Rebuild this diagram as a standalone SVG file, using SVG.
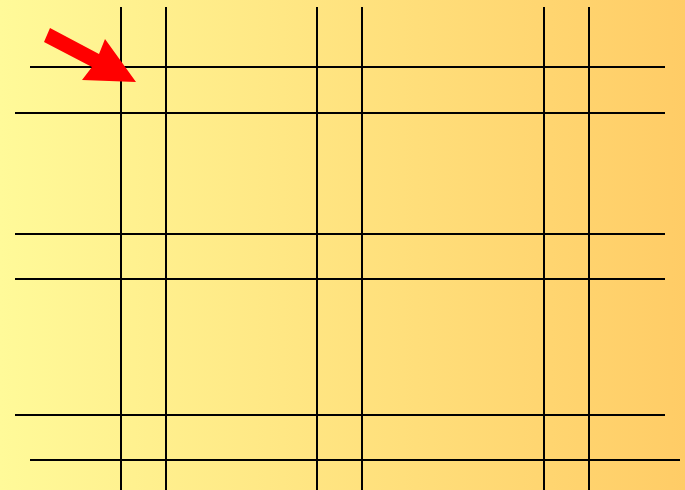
<svg xmlns="http://www.w3.org/2000/svg" width="685" height="490" viewBox="0 0 685 490">
<defs>
<linearGradient id="bg" x1="0" y1="0" x2="1" y2="0">
<stop offset="0" stop-color="#FFFA99"/>
<stop offset="1" stop-color="#FFCC66"/>
</linearGradient>
<style>.ln{stroke:#000;stroke-width:2;fill:none}</style>
</defs>
<rect width="685" height="490" fill="url(#bg)"/>
<g id="connectors" class="ln">
<line x1="30" y1="67" x2="665" y2="67"/>
<line x1="15" y1="113" x2="665" y2="113"/>
<line x1="15" y1="234" x2="665" y2="234"/>
<line x1="15" y1="279" x2="665" y2="279"/>
<line x1="15" y1="415" x2="665" y2="415"/>
<line x1="30" y1="460" x2="680" y2="460"/>
<line x1="121" y1="7" x2="121" y2="490"/>
<line x1="166" y1="7" x2="166" y2="490"/>
<line x1="317" y1="7" x2="317" y2="490"/>
<line x1="362" y1="7" x2="362" y2="490"/>
<line x1="544" y1="7" x2="544" y2="490"/>
<line x1="589" y1="7" x2="589" y2="490"/>
</g>
<g id="arrow">
<polygon points="50,28 99,54 105,39 136,82 82,80 92,67 44,42" fill="#FF0000"/>
</g>
</svg>
